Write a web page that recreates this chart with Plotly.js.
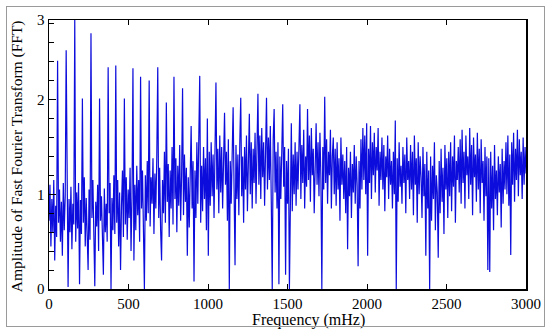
<!DOCTYPE html>
<html>
<head>
<meta charset="utf-8">
<script src="https://cdn.plot.ly/plotly-3.0.1.min.js"></script>
<style>
  html, body { margin: 0; padding: 0; background: #fff; }
  #wrap { position: relative; width: 550px; height: 331px; }
  #chart { position: absolute; left: 0; top: 0; width: 550px; height: 331px; }
  #frame { position: absolute; left: 6px; top: 6px; width: 537px; height: 319px;
           border: 1px solid #9a9a9a; pointer-events: none; }
</style>
</head>
<body>
<div id="wrap">
  <div id="chart"></div>
  <div id="frame"></div>
</div>
<script>
// FFT amplitude, one value per 6 mHz bin (0 ... 3000 mHz)
const binWidth = 6; // mHz
const amplitude = [
  0.72, 1.10, 0.45, 0.95, 0.60, 1.15, 0.30, 0.88, 0.55, 2.41,
  0.70, 1.05, 0.50, 0.92, 0.35, 1.12, 0.62, 0.98, 2.52, 0.55,
  0.02, 0.95, 0.60, 1.08, 0.42, 0.90, 0.68, 2.84, 0.50, 1.02,
  0.64, 1.12, 0.05, 0.94, 0.58, 2.01, 0.70, 1.18, 0.45, 0.96,
  0.62, 0.20, 1.05, 0.52, 2.70, 0.75, 1.15, 0.48, 0.03, 0.92,
  0.66, 1.10, 0.40, 2.01, 0.72, 0.98, 0.55, 0.15, 1.06, 0.60,
  0.90, 0.50, 2.34, 0.80, 1.12, 0.00, 0.96, 0.62, 1.20, 0.58,
  2.36, 0.70, 1.15, 0.45, 1.02, 0.20, 0.88, 1.25, 0.55, 2.01,
  0.68, 1.18, 0.52, 1.05, 0.75, 1.28, 0.40, 0.98, 2.33, 0.30,
  1.10, 0.62, 1.30, 0.78, 1.15, 0.50, 2.24, 0.85, 1.25, 0.60,
  0.00, 1.20, 0.72, 1.35, 0.80, 2.20, 0.66, 1.18, 0.90, 1.38,
  0.58, 1.22, 0.85, 1.40, 2.34, 0.75, 1.28, 0.62, 0.30, 1.15,
  0.80, 1.45, 0.70, 1.97, 0.92, 1.32, 0.55, 1.25, 0.85, 1.50,
  0.68, 2.24, 0.95, 1.38, 0.60, 1.30, 0.88, 1.52, 0.72, 1.20,
  2.12, 0.78, 1.42, 0.92, 1.28, 0.35, 1.18, 0.65, 1.48, 1.72,
  0.85, 1.35, 0.08, 1.25, 0.75, 1.55, 0.90, 1.40, 2.25, 0.70,
  1.30, 0.82, 1.50, 0.95, 1.38, 0.62, 1.80, 0.35, 1.45, 0.88,
  1.55, 0.98, 1.42, 0.75, 1.60, 2.18, 1.05, 1.48, 0.80, 1.62,
  1.02, 1.50, 0.85, 1.65, 1.86, 1.10, 1.45, 0.72, 1.58, 0.00,
  1.35, 0.90, 1.60, 1.92, 1.05, 0.25, 1.52, 0.95, 1.42, 0.78,
  1.55, 2.02, 0.98, 1.40, 0.70, 1.50, 1.05, 1.62, 0.82, 1.38,
  1.85, 1.00, 1.55, 0.85, 1.48, 1.12, 1.65, 0.90, 1.42, 2.06,
  1.10, 1.62, 0.95, 1.70, 1.18, 1.55, 0.88, 1.75, 2.02, 1.05,
  1.60, 1.15, 1.72, 0.92, 0.00, 1.58, 1.90, 1.02, 1.45, 0.85,
  1.55, 0.05, 1.40, 0.95, 1.62, 1.95, 1.08, 1.50, 0.15, 1.35,
  0.90, 1.48, 0.00, 1.10, 1.75, 0.82, 1.42, 1.00, 1.55, 0.88,
  1.45, 1.05, 1.60, 1.95, 0.95, 1.52, 1.12, 1.68, 0.85, 1.40,
  1.08, 1.90, 1.15, 1.62, 0.92, 1.70, 1.20, 1.48, 0.80, 1.58,
  1.75, 1.10, 1.55, 0.98, 1.65, 1.18, 0.00, 1.50, 1.05, 2.03,
  1.12, 1.58, 0.90, 1.45, 1.20, 1.68, 0.85, 1.40, 1.60, 1.00,
  1.48, 0.88, 1.55, 1.05, 1.38, 0.72, 1.60, 1.10, 1.42, 0.95,
  1.35, 0.80, 1.50, 0.42, 1.28, 0.98, 1.45, 0.75, 1.32, 1.02,
  1.52, 0.90, 1.40, 1.10, 0.24, 1.35, 0.85, 1.58, 1.05, 1.70,
  1.15, 1.62, 1.00, 1.75, 0.35, 1.48, 1.12, 1.72, 0.95, 1.55,
  1.20, 1.65, 1.02, 1.50, 1.25, 1.70, 0.88, 1.45, 1.15, 1.60,
  1.05, 1.52, 0.82, 1.40, 1.18, 1.62, 0.95, 1.48, 1.10, 1.35,
  0.85, 1.45, 1.00, 1.78, 0.00, 1.38, 0.92, 1.55, 1.08, 1.30,
  0.90, 1.50, 1.12, 1.42, 0.80, 1.60, 1.15, 1.35, 0.95, 1.52,
  1.05, 1.45, 0.78, 1.62, 1.10, 1.38, 0.70, 1.55, 1.00, 1.40,
  1.18, 0.75, 1.50, 0.98, 1.32, 0.35, 1.45, 0.85, 1.25, 0.00,
  1.40, 0.72, 1.30, 0.95, 1.55, 0.62, 1.20, 1.02, 0.33, 1.35,
  0.80, 1.48, 0.92, 1.28, 0.58, 1.52, 1.05, 1.38, 0.75, 1.45,
  0.98, 1.55, 0.82, 1.40, 1.08, 1.62, 0.70, 1.35, 1.15, 1.50,
  1.02, 1.58, 0.90, 1.68, 1.12, 1.45, 0.85, 1.62, 1.20, 1.40,
  0.95, 1.70, 1.10, 1.52, 0.78, 1.60, 1.18, 1.42, 0.92, 1.65,
  1.05, 1.48, 0.80, 1.58, 1.12, 1.35, 0.72, 1.50, 0.98, 1.40,
  0.20, 1.38, 0.18, 1.45, 0.85, 1.30, 0.62, 1.52, 0.95, 1.25,
  0.78, 1.40, 1.02, 1.32, 0.65, 1.48, 0.90, 1.35, 1.05, 1.55,
  1.00, 1.62, 0.88, 1.42, 0.36, 1.55, 1.10, 1.65, 0.92, 1.48,
  1.15, 1.68, 0.98, 1.58, 1.20, 1.45, 0.95, 1.60, 1.10, 1.50,
  1.22
];
const frequency = amplitude.map((_, i) => i * binWidth);

const xTickVals = [0, 500, 1000, 1500, 2000, 2500, 3000];
const xTickText = ['0', '500', '1000', '1500', '2000', '2500', '3000'];
const yTop = 2.84;            // top of the drawn axis
const yTickVals = [0, 1, 2, yTop];
const yTickText = ['0', '1', '2', '3'];

const xTitle = 'Frequency (mHz)';
const yTitle = 'Amplitude of Fast Fourier Transform (FFT)';

const trace = {
  x: frequency,
  y: amplitude,
  type: 'scatter',
  mode: 'lines',
  line: { color: '#0c0cdc', width: 1.2 },
  hoverinfo: 'x+y'
};

const layout = {
  width: 550,
  height: 331,
  margin: { l: 49, r: 24, t: 20, b: 42, pad: 0 },
  paper_bgcolor: '#ffffff',
  plot_bgcolor: '#ffffff',
  showlegend: false,
  xaxis: {
    range: [0, 3000],
    tickmode: 'array',
    tickvals: xTickVals,
    ticktext: xTickText,
    ticks: 'inside',
    ticklen: 5,
    tickwidth: 1,
    tickcolor: '#000',
    showline: true,
    linecolor: '#000',
    linewidth: 1.5,
    mirror: 'ticks',
    showgrid: false,
    zeroline: false,
    tickfont: { family: 'Liberation Serif', size: 15, color: '#000' }
  },
  yaxis: {
    range: [0, yTop],
    tickmode: 'array',
    tickvals: yTickVals,
    ticktext: yTickText,
    ticks: 'inside',
    ticklen: 7,
    tickwidth: 1,
    tickcolor: '#000',
    minor: { tickmode: 'linear', tick0: 0, dtick: 0.2, ticks: 'inside', ticklen: 5, tickcolor: '#000', tickwidth: 1, showgrid: false },
    showline: true,
    linecolor: '#000',
    linewidth: 1.5,
    mirror: true,
    showgrid: false,
    zeroline: false,
    tickfont: { family: 'Liberation Serif', size: 15, color: '#000' }
  },
  annotations: [
    {
      text: xTitle, xref: 'paper', yref: 'paper',
      x: 0.545, y: -0.075, xanchor: 'center', yanchor: 'top',
      showarrow: false, font: { family: 'Liberation Serif', size: 16, color: '#000' }
    },
    {
      text: yTitle, xref: 'paper', yref: 'paper',
      x: -0.067, y: 0.494, xanchor: 'center', yanchor: 'middle',
      textangle: -90, showarrow: false,
      font: { family: 'Liberation Serif', size: 15.5, color: '#000' }
    }
  ]
};

Plotly.newPlot('chart', [trace], layout, { displayModeBar: false, staticPlot: true });
</script>
</body>
</html>
